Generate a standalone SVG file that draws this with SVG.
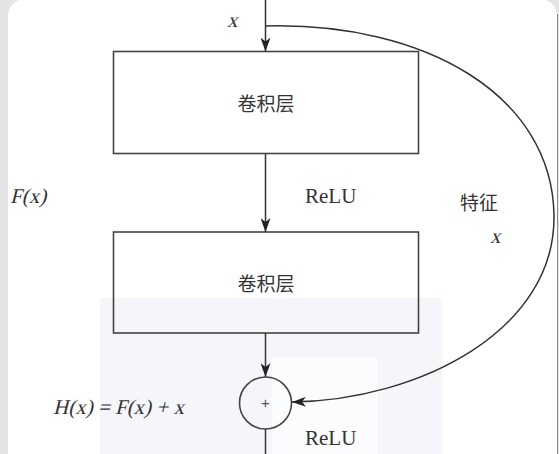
<svg xmlns="http://www.w3.org/2000/svg" width="559" height="454" viewBox="0 0 559 454">
  <style>
    .box { fill: none; stroke: #444; stroke-width: 1.6; }
    .conn { fill: none; stroke: #333; stroke-width: 1.5; }
    .cn { font-family: "Noto Sans CJK SC", "Noto Sans", sans-serif; font-size: 19px; fill: #333; }
    .tm { font-family: "Liberation Serif", "DejaVu Serif", serif; font-size: 21px; fill: #333; }
  </style>
  <defs>
    <marker id="arr" viewBox="0 0 14 10" refX="14" refY="5" markerWidth="14" markerHeight="10" markerUnits="userSpaceOnUse" orient="auto">
      <path d="M0,0 L14,5 L0,10 L4,5 z" fill="#222"/>
    </marker>
  </defs>
  <g id="background">
    <rect x="0" y="0" width="559" height="454" fill="#e4e4e4"/>
    <rect x="8" y="-1" width="549" height="480" rx="17" fill="#ffffff"/>
    <line x1="557.5" y1="14" x2="557.5" y2="454" stroke="#8a8a8a" stroke-width="1"/>
    <rect x="100" y="298" width="342" height="156" fill="#f5f6f9"/>
    <rect x="272" y="357" width="105" height="97" fill="#fbfcfd"/>
  </g>
  <g id="conv1">
    <rect class="box" x="113.5" y="51.5" width="305" height="102"/>
    <text class="cn" x="266" y="111" text-anchor="middle">卷积层</text>
  </g>
  <g id="conv2">
    <rect class="box" x="113.5" y="232" width="305" height="101"/>
    <text class="cn" x="266" y="291" text-anchor="middle">卷积层</text>
  </g>
  <g id="add">
    <circle class="box" cx="265.5" cy="403" r="26"/>
    <text x="265.5" y="408" text-anchor="middle" font-family="Liberation Sans, sans-serif" font-size="15" fill="#555">+</text>
  </g>
  <g id="connectors">
    <line class="conn" x1="265.5" y1="0" x2="265.5" y2="51.5" marker-end="url(#arr)"/>
    <line class="conn" x1="265.5" y1="153.5" x2="265.5" y2="232" marker-end="url(#arr)"/>
    <line class="conn" x1="265.5" y1="333" x2="265.5" y2="377" marker-end="url(#arr)"/>
    <line class="conn" x1="265.5" y1="429" x2="265.5" y2="454"/>
    <path class="conn" d="M265.5,26 C425,22 552,95 554,215 C556,330 420,400 292,402" marker-end="url(#arr)"/>
  </g>
  <g id="labels">
    <text class="tm" transform="translate(227,27) skewX(-14)">x</text>
    <text class="tm" transform="translate(10,203) skewX(-14)">F(x)</text>
    <text class="tm" x="305" y="203">ReLU</text>
    <text class="cn" x="460" y="210" font-size="21">特征</text>
    <text class="tm" transform="translate(490,243) skewX(-14)">x</text>
    <text class="tm" transform="translate(53,414) skewX(-14)">H(x) = F(x) + x</text>
    <text class="tm" x="305" y="445">ReLU</text>
  </g>
</svg>
